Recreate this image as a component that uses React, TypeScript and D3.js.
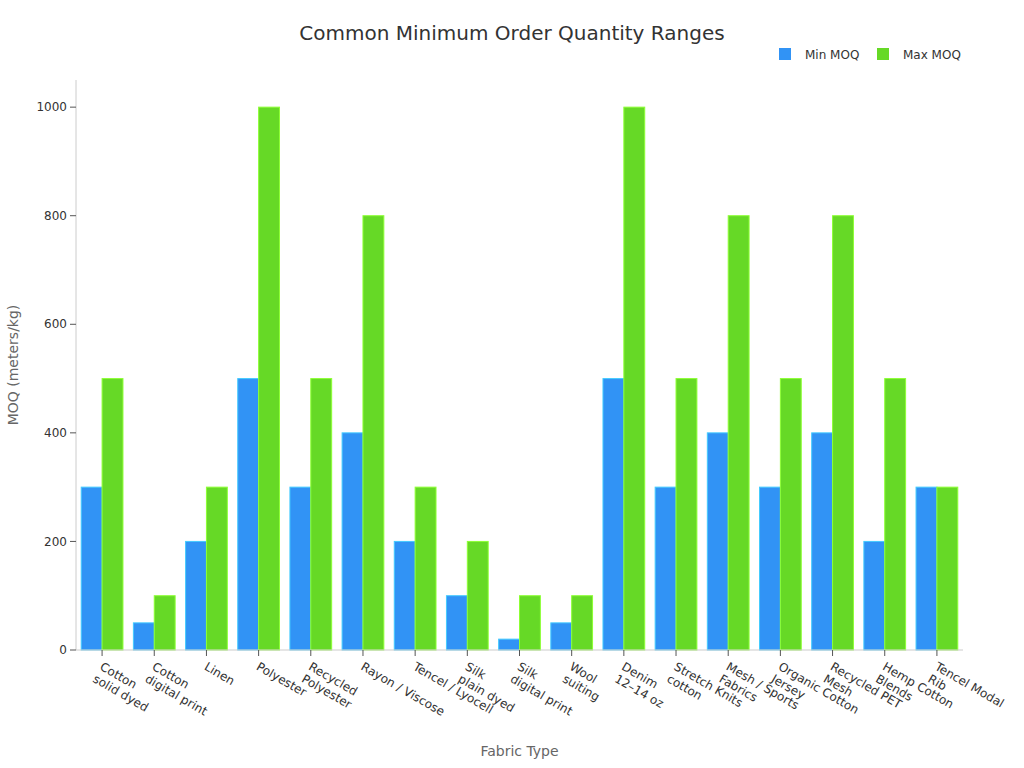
import React from "react";
import * as d3 from "d3";

// fabric categories, "\n" marks where the tick label wraps
const fabrics = [
  "Cotton\nsolid dyed",
  "Cotton\ndigital print",
  "Linen",
  "Polyester",
  "Recycled\nPolyester",
  "Rayon / Viscose",
  "Tencel / Lyocell",
  "Silk\nplain dyed",
  "Silk\ndigital print",
  "Wool\nsuiting",
  "Denim\n12–14 oz",
  "Stretch Knits\ncotton",
  "Mesh / Sports\nFabrics",
  "Organic Cotton\nJersey",
  "Recycled PET\nMesh",
  "Hemp Cotton\nBlends",
  "Tencel Modal\nRib",
];
const minMoq = [300, 50, 200, 500, 300, 400, 200, 100, 20, 50, 500, 300, 400, 300, 400, 200, 300];
const maxMoq = [500, 100, 300, 1000, 500, 800, 300, 200, 100, 100, 1000, 500, 800, 500, 800, 500, 300];
const seriesNames = ["Min MOQ", "Max MOQ"];
const seriesColors = ["#3193f5", "#66d926"];
const yTicks = [0, 200, 400, 600, 800, 1000];

const width = 1024;
const height = 768;
const margin = { top: 80, right: 61, bottom: 118, left: 76 };
const font = "'DejaVu Sans', sans-serif";

export default function App() {
  const x = d3
    .scaleBand()
    .domain(fabrics)
    .range([margin.left, width - margin.right])
    .paddingInner(0.2)
    .paddingOuter(0.1);
  const xSub = d3
    .scaleBand()
    .domain(seriesNames)
    .range([0, x.bandwidth()])
    .padding(0);
  const y = d3
    .scaleLinear()
    .domain([0, 1050])
    .range([height - margin.bottom, margin.top]);

  const series = [minMoq, maxMoq];
  const y0 = y(0);

  return (
    <svg
      width={width}
      height={height}
      style={{ position: "absolute", left: 0, top: 0, fontFamily: font }}
    >
      <rect width={width} height={height} fill="#fff" />
      <text x={512} y={40} textAnchor="middle" fontSize={20} fill="#333">
        Common Minimum Order Quantity Ranges
      </text>

      {/* legend */}
      {seriesNames.map((name, i) => (
        <g key={name} transform={`translate(${779 + i * 98},48)`}>
          <rect width={12} height={12} fill={seriesColors[i]} />
          <text x={26} y={10.5} fontSize={12} fill="#333">
            {name}
          </text>
        </g>
      ))}

      {/* bars */}
      {fabrics.map((f, i) => (
        <g key={f} transform={`translate(${x(f)},0)`}>
          {series.map((vals, s) => (
            <rect
              key={s}
              x={xSub(seriesNames[s])}
              y={y(vals[i])}
              width={xSub.bandwidth()}
              height={y0 - y(vals[i])}
              fill={seriesColors[s]}
              stroke={d3.color(seriesColors[s])!.brighter(0.9).formatHex()}
              strokeWidth={1}
            />
          ))}
        </g>
      ))}

      {/* y axis */}
      <line x1={margin.left} x2={margin.left} y1={margin.top} y2={y0} stroke="#ccc" />
      {yTicks.map((t) => (
        <g key={t} transform={`translate(${margin.left},${y(t)})`}>
          <line x1={-6} x2={0} stroke="#555" />
          <text x={-9} dy="0.35em" textAnchor="end" fontSize={12} fill="#333">
            {t}
          </text>
        </g>
      ))}
      <text
        transform={`translate(18,${(margin.top + y0) / 2}) rotate(-90)`}
        textAnchor="middle"
        fontSize={14}
        fill="#666"
      >
        MOQ (meters/kg)
      </text>

      {/* x axis */}
      <line x1={margin.left} x2={width - margin.right} y1={y0} y2={y0} stroke="#ccc" />
      {fabrics.map((f) => {
        const cx = x(f)! + x.bandwidth() / 2;
        return (
          <g key={f} transform={`translate(${cx},${y0})`}>
            <line y1={0} y2={6} stroke="#555" />
            <text transform="translate(4,7) rotate(30)" fontSize={12} fill="#333">
              {f.split("\n").map((line, k) => (
                <tspan key={k} x={0} y={14 + k * 14}>
                  {line}
                </tspan>
              ))}
            </text>
          </g>
        );
      })}
      <text
        x={(margin.left + width - margin.right) / 2}
        y={756}
        textAnchor="middle"
        fontSize={14}
        fill="#666"
      >
        Fabric Type
      </text>
    </svg>
  );
}
